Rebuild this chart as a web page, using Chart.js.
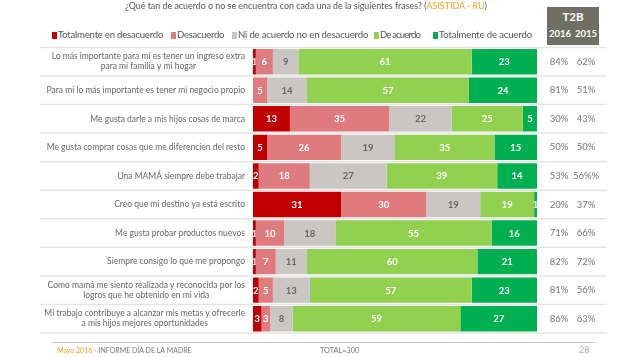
<!DOCTYPE html>
<html><head><meta charset="utf-8">
<script src="https://cdn.jsdelivr.net/npm/chart.js@4"></script>
<style>
body{margin:0;width:640px;height:357px;overflow:hidden;background:#fff;position:relative;font-family:Lato,"Open Sans",sans-serif}
#c{position:absolute;left:0;top:0}
.title{position:absolute;top:0px;left:0;width:612px;text-align:center;font-size:8.9px;color:#555;white-space:nowrap}
.title span{color:#f0a020}
.legend span{position:absolute;top:29px;font-size:9.6px;color:#555;white-space:nowrap}
.legend i{position:absolute;left:-6px;top:3px;width:5px;height:7px}
.t2b{position:absolute;left:547px;top:7px;width:52px;height:38px;background:#706f63;color:#fff;font-weight:bold;text-align:center}
.t2b .h{font-size:11.5px;margin-top:3px}
.t2b .y{font-size:9.5px;display:flex;justify-content:space-around;margin-top:5px}
.foot{position:absolute;top:346px;font-size:7px;color:#777;white-space:nowrap}
.fline{position:absolute;left:51px;top:342px;width:544px;height:1px;background:#c8c8c8}
</style></head>
<body>
<canvas id="c" width="640" height="357"></canvas>
<div class="title">¿Qué tan de acuerdo o no se encuentra con cada una de la siguientes frases? (<span>ASISTIDA - RU</span>)</div>
<div class="legend" id="legend"></div>
<div class="t2b"><div class="h">T2B</div><div class="y"><span>2016</span><span>2015</span></div></div>
<div class="fline"></div>
<div class="foot" style="left:57px"><span style="color:#f0a020">Mayo 2016</span> - INFORME DÍA DE LA MADRE</div>
<div class="foot" style="left:320px;font-size:7.3px">TOTAL=300</div>
<div class="foot" style="left:579px;color:#aaa;font-size:9px;top:344px">28</div>
<script>
const categories = [
  ["Lo más importante para mí es tener un ingreso extra","para mi familia y mi hogar"],
  ["Para mí lo más importante es tener mi negocio propio"],
  ["Me gusta darle a mis hijos cosas de marca"],
  ["Me gusta comprar cosas que me diferencien del resto"],
  ["Una MAMÁ siempre debe trabajar"],
  ["Creo que mi destino ya está escrito"],
  ["Me gusta probar productos nuevos"],
  ["Siempre consigo lo que me propongo"],
  ["Como mamá me siento realizada y reconocida por los","logros que he obtenido en mi vida"],
  ["Mi trabajo contribuye a alcanzar mis metas y ofrecerle","a mis hijos mejores oportunidades"]
];
const seriesNames = ["Totalmente en desacuerdo","Desacuerdo","Ni de acuerdo no en desacuerdo","De acuerdo","Totalmente de acuerdo"];
const totDesacuerdo = [1,0,13,5,2,31,1,1,2,3];
const desacuerdo    = [6,5,35,26,18,30,10,7,5,3];
const niNi          = [9,14,22,19,27,19,18,11,13,8];
const deAcuerdo     = [61,57,25,35,39,19,55,60,57,59];
const totAcuerdo    = [23,24,5,15,14,1,16,21,23,27];
const t2b2016 = ["84%","81%","30%","50%","53%","20%","71%","82%","81%","86%"];
const t2b2015 = ["62%","51%","43%","50%","56%%","37%","66%","72%","56%","63%"];
const colors = ["#c00000","#df7b7f","#c9c6c4","#92d050","#00b050"];
const labelColors = ["#fff","#fff","#666","#fff","#fff"];
const seriesData = [totDesacuerdo,desacuerdo,niNi,deAcuerdo,totAcuerdo];
const legendX = [58,177,238,380,439];
const legendW = [105,47,130,40,93];

const lg = document.getElementById('legend');
lg.innerHTML = seriesNames.map((n,i)=>'<span style="left:'+legendX[i]+'px"><i style="background:'+colors[i]+'"></i>'+n+'</span>').join('');
Array.from(lg.children).forEach((s,i)=>{
  const w = s.getBoundingClientRect().width;
  const ls = (legendW[i]-w)/seriesNames[i].length;
  s.style.letterSpacing = ls.toFixed(2)+'px';
});

const LABEL_FONT = '8.5px Lato, "Open Sans", sans-serif';
const decor = {
  id:'decor',
  beforeDatasetsDraw(chart){
    const ctx = chart.ctx, y = chart.scales.y, ca = chart.chartArea;
    const n = categories.length, rowH = (ca.bottom-ca.top)/n;
    ctx.save();
    ctx.strokeStyle = '#e4e4e4'; ctx.lineWidth = 1.5;
    for(let i=0;i<=n;i++){
      const yy = ca.top + i*rowH;
      ctx.beginPath(); ctx.moveTo(40,yy); ctx.lineTo(607,yy); ctx.stroke();
    }
    ctx.font = LABEL_FONT; ctx.fillStyle = '#666'; ctx.textAlign='center'; ctx.textBaseline='middle';
    categories.forEach((lines,i)=>{
      const cy = y.getPixelForValue(i);
      const maxW = Math.max(...lines.map(l=>ctx.measureText(l).width));
      const cx = ca.left - 8 - maxW/2;
      const lh = 10;
      lines.forEach((l,k)=>{
        ctx.fillText(l, cx, cy + (k-(lines.length-1)/2)*lh);
      });
    });
    ctx.font = '9.5px Lato, "Open Sans", sans-serif'; ctx.fillStyle='#777';
    categories.forEach((lines,i)=>{
      const cy = y.getPixelForValue(i);
      ctx.fillText(t2b2016[i], 559, cy);
      ctx.fillText(t2b2015[i], 586, cy);
    });
    ctx.restore();
  },
  afterDatasetsDraw(chart){
    const ctx = chart.ctx;
    ctx.save();
    ctx.font = 'bold 9.5px Lato, "Open Sans", sans-serif';
    ctx.textAlign='center'; ctx.textBaseline='middle';
    chart.data.datasets.forEach((ds,di)=>{
      chart.getDatasetMeta(di).data.forEach((el,i)=>{
        const v = ds.data[i]; if(!v) return;
        const p = el.getProps(['x','y','base','height'],true);
        ctx.save();
        ctx.beginPath(); ctx.rect(Math.min(p.base,p.x), p.y-p.height/2, Math.abs(p.x-p.base), p.height); ctx.clip();
        ctx.fillStyle = labelColors[di];
        ctx.fillText(String(v), (p.x+p.base)/2, p.y+0.5);
        ctx.restore();
      });
    });
    ctx.restore();
  }
};

new Chart(document.getElementById('c'), {
  type:'bar',
  data:{
    labels: categories.map(c=>c.join(' ')),
    datasets: seriesData.map((d,i)=>({label:seriesNames[i],data:d,backgroundColor:colors[i],borderWidth:0,barPercentage:0.89,categoryPercentage:1}))
  },
  options:{
    indexAxis:'y', responsive:false, animation:false,
    layout:{padding:{left:253,right:103,top:47.4,bottom:24}},
    plugins:{legend:{display:false},tooltip:{enabled:false}},
    scales:{
      x:{stacked:true,min:0,max:100,display:false},
      y:{stacked:true,display:false}
    }
  },
  plugins:[decor]
});
</script>
</body></html>
